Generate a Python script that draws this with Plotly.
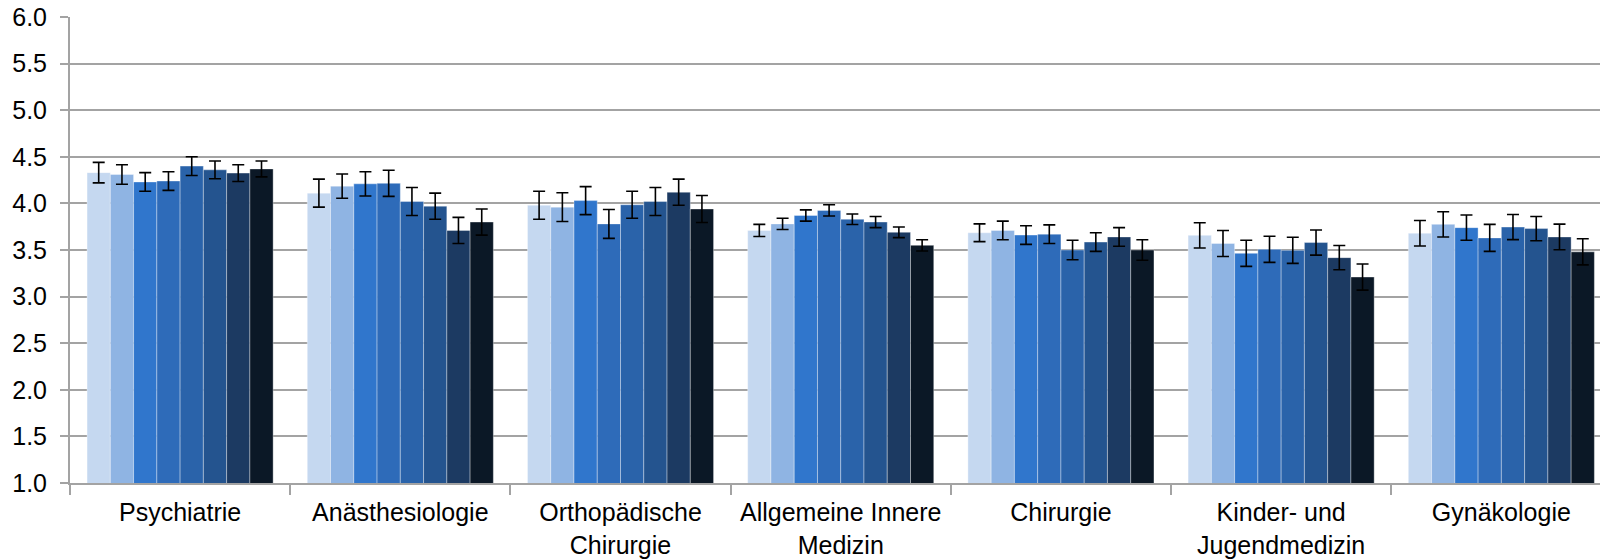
import plotly.graph_objects as go

categories = ["Psychiatrie", "Anästhesiologie", "Orthopädische<br>Chirurgie",
              "Allgemeine Innere<br>Medizin", "Chirurgie",
              "Kinder- und<br>Jugendmedizin", "Gynäkologie"]

series_names = ["Serie 1", "Serie 2", "Serie 3", "Serie 4",
                "Serie 5", "Serie 6", "Serie 7", "Serie 8"]

s1 = [4.33, 4.11, 3.98, 3.71, 3.685, 3.657, 3.68]
s2 = [4.31, 4.185, 3.96, 3.78, 3.71, 3.57, 3.775]
s3 = [4.23, 4.21, 4.03, 3.87, 3.66, 3.464, 3.74]
s4 = [4.24, 4.215, 3.78, 3.925, 3.67, 3.507, 3.63]
s5 = [4.40, 4.02, 3.985, 3.83, 3.50, 3.496, 3.746]
s6 = [4.36, 3.97, 4.02, 3.80, 3.585, 3.58, 3.73]
s7 = [4.325, 3.71, 4.12, 3.69, 3.64, 3.418, 3.64]
s8 = [4.37, 3.80, 3.94, 3.55, 3.50, 3.21, 3.48]

e1 = [0.11, 0.15, 0.15, 0.065, 0.095, 0.135, 0.137]
e2 = [0.105, 0.13, 0.155, 0.06, 0.10, 0.14, 0.135]
e3 = [0.10, 0.13, 0.15, 0.06, 0.10, 0.14, 0.135]
e4 = [0.10, 0.14, 0.155, 0.06, 0.10, 0.14, 0.145]
e5 = [0.10, 0.15, 0.145, 0.057, 0.105, 0.14, 0.135]
e6 = [0.095, 0.14, 0.15, 0.06, 0.10, 0.135, 0.13]
e7 = [0.09, 0.14, 0.14, 0.057, 0.10, 0.13, 0.138]
e8 = [0.085, 0.14, 0.145, 0.06, 0.11, 0.14, 0.14]

y_ticks = [1.0, 1.5, 2.0, 2.5, 3.0, 3.5, 4.0, 4.5, 5.0, 5.5, 6.0]

colors = ["#c5d8f0", "#8fb4e3", "#3076cc", "#2e6bb9",
          "#2a63aa", "#24548f", "#1c3a62", "#0b1826"]

values = [s1, s2, s3, s4, s5, s6, s7, s8]
errors = [e1, e2, e3, e4, e5, e6, e7, e8]

fig = go.Figure()
for name, v, e, c in zip(series_names, values, errors, colors):
    fig.add_trace(go.Bar(
        x=categories, y=v, name=name,
        marker=dict(color=c, line=dict(color="rgba(255,255,255,0.35)", width=1)),
        error_y=dict(type="data", array=e, visible=True, color="black",
                     thickness=1.6, width=6),
    ))

grid = "#a3a3a3"
font = "Liberation Sans, Arial, sans-serif"
fig.update_layout(
    width=1600, height=560,
    margin=dict(l=70, r=0, t=17, b=77, autoexpand=False),
    paper_bgcolor="white", plot_bgcolor="white",
    barmode="group", bargap=0.155, bargroupgap=0,
    showlegend=False,
    font=dict(family=font, size=25, color="black"),
)
fig.update_xaxes(
    type="category", range=[-0.5, 6.448], automargin=False,
    tickson="boundaries", ticks="outside", ticklen=10, tickwidth=2,
    tickcolor=grid, showline=True, linecolor=grid, linewidth=2,
    showgrid=False, tickfont=dict(size=25, family=font),
    tickangle=0, ticklabelstandoff=6,
)
fig.update_yaxes(
    range=[1, 6], tickvals=y_ticks, tickformat=".1f", automargin=False,
    ticks="outside", ticklen=8, tickwidth=2, tickcolor=grid,
    showgrid=True, gridcolor=grid, gridwidth=2,
    showline=True, linecolor=grid, linewidth=2,
    zeroline=False, ticklabelstandoff=8, ticklabeloverflow="allow",
    tickfont=dict(size=25, family=font),
)

fig.write_html(
    "out.html",
    config={"displayModeBar": False},
    post_script="document.body.style.margin='0';document.body.style.overflow='hidden';",
)
